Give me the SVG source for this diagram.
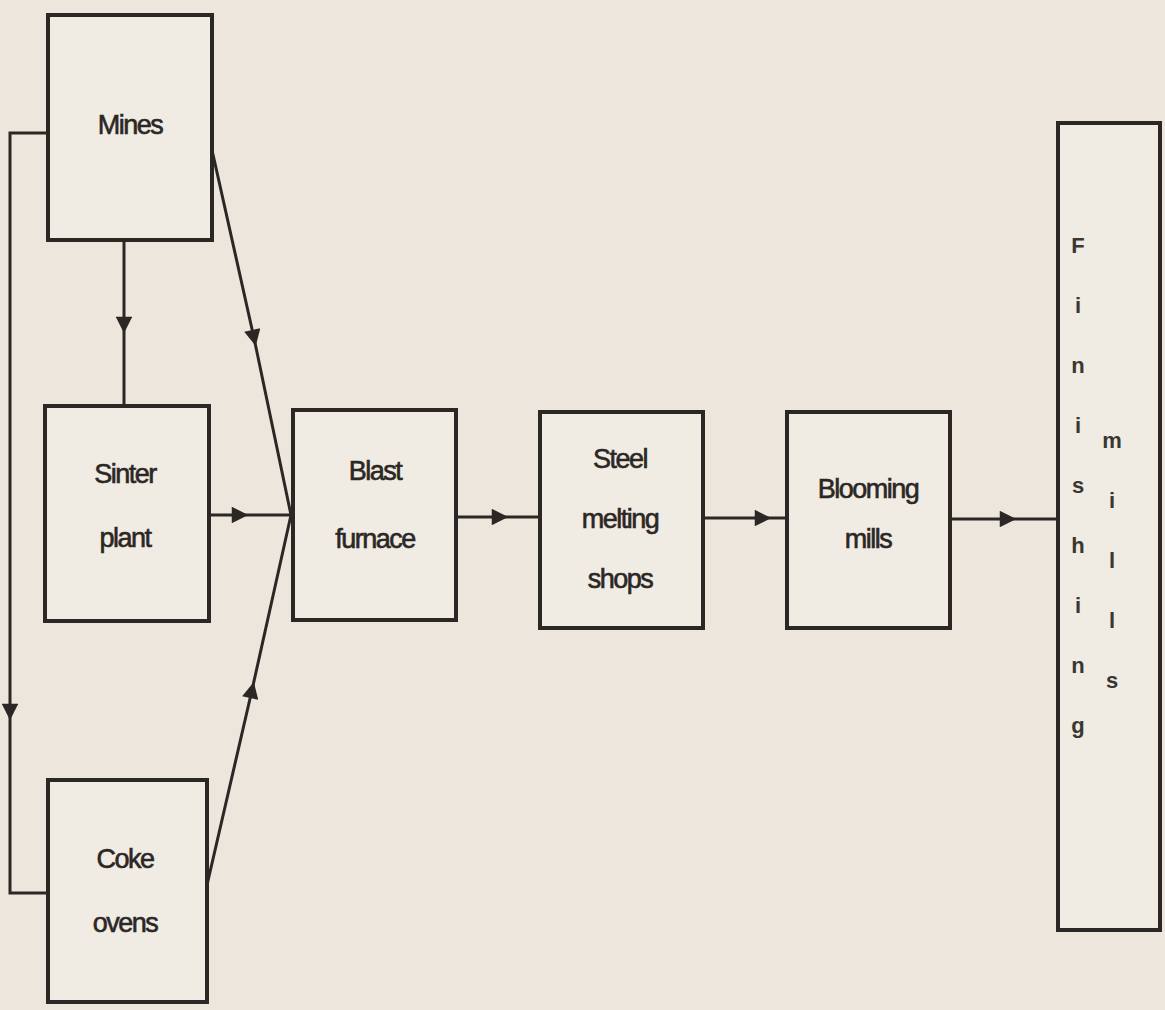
<svg xmlns="http://www.w3.org/2000/svg" width="1165" height="1010" viewBox="0 0 1165 1010">
<defs>
<style>
.box{fill:#f0ebe3;stroke:#2b2724;stroke-width:4}
.ln{fill:none;stroke:#2b2724;stroke-width:3}
.t{font-family:"Liberation Sans",Arial,sans-serif;font-size:27px;fill:#2b2724;stroke:#2b2724;stroke-width:0.6;text-anchor:middle;letter-spacing:-1.5px}
.v{font-family:"Liberation Sans",Arial,sans-serif;font-size:22px;font-weight:bold;fill:#3a3633;text-anchor:middle}
</style>
<marker id="ah" viewBox="0 0 10 10" refX="5" refY="5" markerWidth="9" markerHeight="5.5" markerUnits="strokeWidth" orient="auto">
<path d="M0,0 L10,5 L0,10 Z" fill="#2b2724"/>
</marker>
</defs>
<rect width="1165" height="1010" fill="#ede6dc"/>
<g id="connectors">
<path class="ln" d="M124,240 L124,325 L124,406" marker-mid="url(#ah)"/>
<path class="ln" d="M212,150 L254,338 L291,515" marker-mid="url(#ah)"/>
<path class="ln" d="M209,515 L240,515 L293,515" marker-mid="url(#ah)"/>
<path class="ln" d="M207,885 L252,690 L291,515" marker-mid="url(#ah)"/>
<path class="ln" d="M48,133 L10,133 L10,712" marker-end="url(#ah)"/>
<path class="ln" d="M10,712 L10,893 L48,893"/>
<path class="ln" d="M456,517 L500,517 L540,517" marker-mid="url(#ah)"/>
<path class="ln" d="M703,518 L763,518 L787,518" marker-mid="url(#ah)"/>
<path class="ln" d="M950,519 L1008,519 L1058,519" marker-mid="url(#ah)"/>
</g>
<g id="mines"><rect class="box" x="48" y="15" width="164" height="225"/><text class="t" x="130" y="134">Mines</text></g>
<g id="sinter"><rect class="box" x="45" y="406" width="164" height="215"/><text class="t" x="125" y="483">Sinter</text><text class="t" x="125" y="547">plant</text></g>
<g id="coke"><rect class="box" x="48" y="780" width="159" height="222"/><text class="t" x="125" y="868">Coke</text><text class="t" x="125" y="932">ovens</text></g>
<g id="blast"><rect class="box" x="293" y="410" width="163" height="210"/><text class="t" x="375" y="480">Blast</text><text class="t" x="375" y="548">furnace</text></g>
<g id="steel"><rect class="box" x="540" y="412" width="163" height="216"/><text class="t" x="620" y="468">Steel</text><text class="t" x="620" y="528">melting</text><text class="t" x="620" y="588">shops</text></g>
<g id="blooming"><rect class="box" x="787" y="412" width="163" height="216"/><text class="t" x="868" y="498">Blooming</text><text class="t" x="868" y="548">mills</text></g>
<g id="finishing"><rect class="box" x="1058" y="123" width="102" height="807"/>
<text class="v" x="1078" y="253">F</text>
<text class="v" x="1078" y="313">i</text>
<text class="v" x="1078" y="373">n</text>
<text class="v" x="1078" y="433">i</text>
<text class="v" x="1078" y="493">s</text>
<text class="v" x="1078" y="553">h</text>
<text class="v" x="1078" y="613">i</text>
<text class="v" x="1078" y="673">n</text>
<text class="v" x="1078" y="733">g</text>
<text class="v" x="1112" y="448">m</text>
<text class="v" x="1112" y="508">i</text>
<text class="v" x="1112" y="568">l</text>
<text class="v" x="1112" y="628">l</text>
<text class="v" x="1112" y="688">s</text>
</g>
</svg>
